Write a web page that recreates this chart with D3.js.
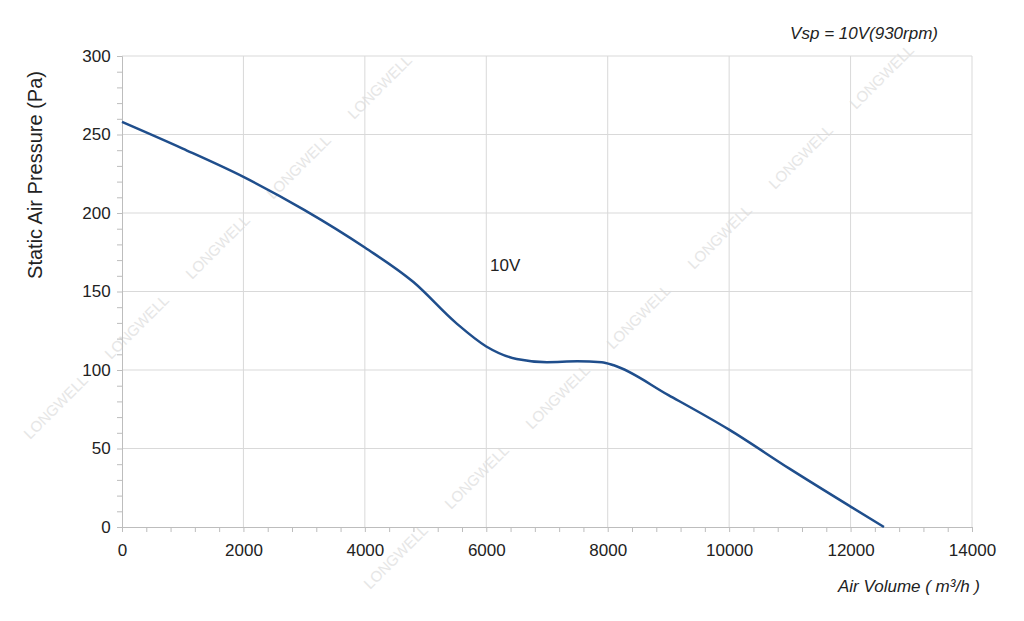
<!DOCTYPE html>
<html><head><meta charset="utf-8">
<script src="https://cdn.jsdelivr.net/npm/d3@7"></script>
<style>body{margin:0;background:#fff}text{font-family:"Liberation Sans",Arial,sans-serif}</style>
</head><body><svg width="1024" height="621"></svg>
<script>
// air volume (m3/h) and static pressure (Pa)
const volume   = [0, 1000, 2000, 3000, 4000, 4800, 5500, 6000, 6500, 7000, 7500, 7900, 8100, 9000, 10000, 11000, 12000, 12550];
const pressure = [258, 241, 223, 202, 178, 156, 130, 115, 107, 105, 105.5, 105, 103, 84, 62, 37, 13, 0];
const xTicks = [0, 2000, 4000, 6000, 8000, 10000, 12000, 14000];
const yTicks = [0, 50, 100, 150, 200, 250, 300];

const svg = d3.select("svg");
const area = {left: 122, right: 972, top: 56, bottom: 527};
const x = d3.scaleLinear().domain([0, 14000]).range([area.left, area.right]);
const y = d3.scaleLinear().domain([0, 300]).range([area.bottom, area.top]);

// watermarks
const wm = svg.append("g").attr("fill", "#e6e6e6").attr("font-size", 15);
for (let i = 0; i < 8; i++) {
  for (let j = 0; j < 2; j++) {
    const tx = 30 + i*81 + j*340, ty = 440 - i*80 + j*150;
    if (ty < 80 || ty > 610 || tx > 990) continue;
    wm.append("text").attr("transform", `translate(${tx},${ty}) rotate(-45)`).text("LONGWELL");
  }
}

// grid
svg.append("g").selectAll("line").data(xTicks.slice(1)).enter().append("line")
  .attr("x1", d => x(d)).attr("x2", d => x(d)).attr("y1", area.top).attr("y2", area.bottom)
  .attr("stroke", "#d9d9d9");
svg.append("g").selectAll("line").data(yTicks.slice(1)).enter().append("line")
  .attr("x1", area.left).attr("x2", area.right).attr("y1", d => y(d)).attr("y2", d => y(d))
  .attr("stroke", "#d9d9d9");

// axes
const gx = svg.append("g").attr("transform", `translate(0,${area.bottom})`)
  .call(d3.axisBottom(x).tickValues(d3.range(0, 14001, 400)).tickSize(5).tickFormat(d => xTicks.includes(d) ? d : ""));
const gy = svg.append("g").attr("transform", `translate(${area.left},0)`)
  .call(d3.axisLeft(y).tickValues(d3.range(0, 301, 10)).tickSize(5).tickFormat(d => yTicks.includes(d) ? d : ""));
[gx, gy].forEach(g => {
  g.selectAll("path,line").attr("stroke", "#bdbdbd");
  g.selectAll("text").attr("font-size", 17).attr("fill", "#222").attr("font-family", "Liberation Sans, Arial");
});
gx.selectAll("text").attr("dy", "1.25em");
gy.selectAll("text").attr("dx", "-0.2em");

// curve
svg.append("path").datum(volume.map((v, i) => [v, pressure[i]]))
  .attr("d", d3.line().x(d => x(d[0])).y(d => y(d[1])).curve(d3.curveMonotoneX))
  .attr("fill", "none").attr("stroke", "#1f4e8c").attr("stroke-width", 2.5);

// labels
svg.append("text").attr("x", 490).attr("y", 271).attr("font-size", 17).attr("fill", "#222").text("10V");
svg.append("text").attr("x", 938).attr("y", 39).attr("text-anchor", "end").attr("font-size", 17).attr("font-style", "italic").attr("fill", "#222").text("Vsp = 10V(930rpm)");
svg.append("text").attr("x", 980).attr("y", 592).attr("text-anchor", "end").attr("font-size", 17).attr("font-style", "italic").attr("fill", "#222").text("Air Volume ( m³/h )");
svg.append("text").attr("transform", "translate(42,175) rotate(-90)").attr("text-anchor", "middle")
  .attr("font-size", 20).attr("fill", "#222").text("Static Air Pressure  (Pa)");
</script></body></html>
